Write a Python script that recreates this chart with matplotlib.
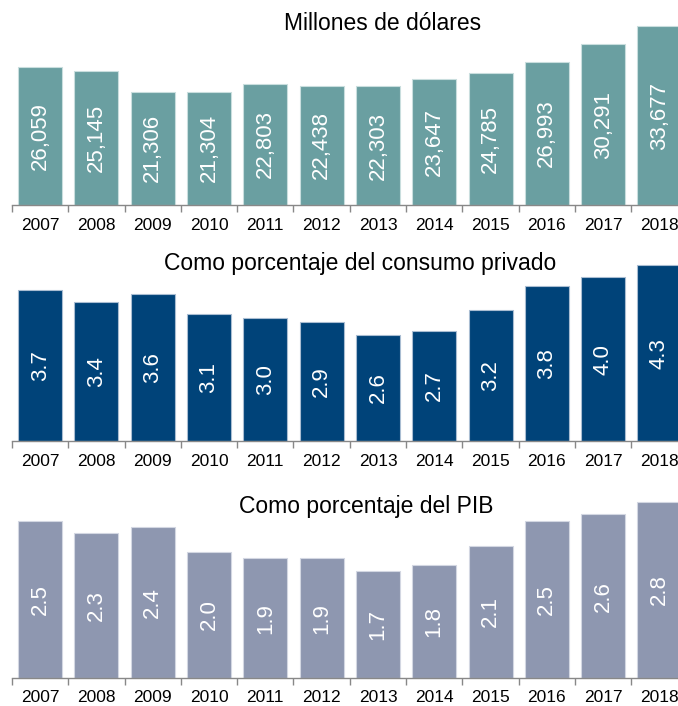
import matplotlib

matplotlib.use("Agg")
import matplotlib.pyplot as plt
import numpy as np

plt.rcParams["font.family"] = ["Liberation Sans", "DejaVu Sans"]

years = [str(y) for y in range(2007, 2019)]
millones = [26059, 25145, 21306, 21304, 22803, 22438, 22303, 23647, 24785, 26993, 30291, 33677]
pct_consumo = [3.7, 3.4, 3.6, 3.1, 3.0, 2.9, 2.6, 2.7, 3.2, 3.8, 4.0, 4.3]
pct_pib = [2.5, 2.3, 2.4, 2.0, 1.9, 1.9, 1.7, 1.8, 2.1, 2.5, 2.6, 2.8]

W, H = 678, 706
fig = plt.figure(figsize=(W / 100, H / 100), dpi=100)

# (values, colour, edge, title, title x, title baseline px, axes top px, baseline px, ylim top, fmt)
panels = [
    (millones, "#6a9fa1", "#c9dede", "Millones de dólares", 0.548, 30, 19, 205, 35000, "{:,.0f}"),
    (pct_consumo, "#004379", "#a9bdd2", "Como porcentaje del consumo privado", 0.515, 270, 257, 441, 4.5, "{:.1f}"),
    (pct_pib, "#8e97b0", "#d3d7e2", "Como porcentaje del PIB", 0.525, 513, 489, 678, 3.0, "{:.1f}"),
]

left, slot = 12, 56.3
x = np.arange(len(years))

for vals, col, edge, title, tx, tbase, top, base, ymax, fmt in panels:
    ax = fig.add_axes([left / W, 1 - base / H, 12 * slot / W, (base - top) / H])
    ax.bar(x, vals, width=0.78, color=col, edgecolor=edge, linewidth=0.8)
    ax.set_xlim(-0.5, 11.5)
    ax.set_ylim(0, ymax)
    for xi, v in zip(x, vals):
        ax.text(xi, v / 2, fmt.format(v), rotation=90, ha="center", va="center",
                color="white", fontsize=16)
    ty = (base - tbase) / (base - top)
    ax.text(tx, ty, title, transform=ax.transAxes, ha="center", va="baseline",
            fontsize=16.5, color="black")

    for s in ("top", "right", "left"):
        ax.spines[s].set_visible(False)
    ax.spines["bottom"].set_color("#888888")
    ax.spines["bottom"].set_linewidth(1.0)
    ax.set_yticks([])
    ax.set_xticks(x, years)
    ax.set_xticks(np.arange(-0.5, 12, 1), minor=True)
    ax.tick_params(axis="x", which="major", length=0, pad=9, labelsize=12.5)
    ax.tick_params(axis="x", which="minor", length=5, width=1, color="#888888")

fig.savefig("out.png", dpi=100)
plt.close(fig)
